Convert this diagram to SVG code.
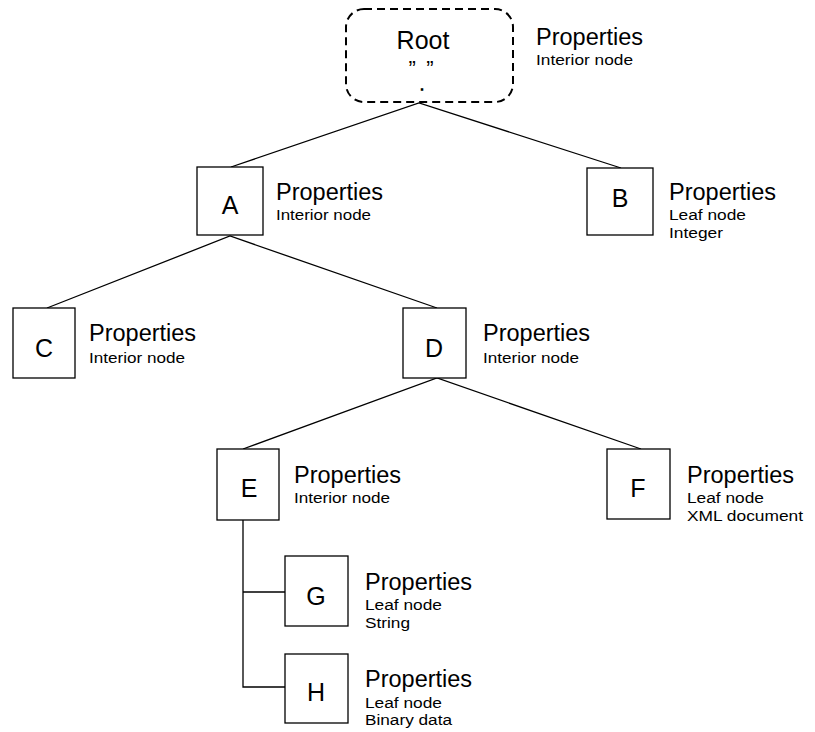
<svg xmlns="http://www.w3.org/2000/svg" width="815" height="732" viewBox="0 0 815 732">
<style>
.box{fill:#fff;stroke:#000;stroke-width:1.3}
.root{fill:#fff;stroke:#000;stroke-width:2;stroke-dasharray:8 5}
.ln{stroke:#000;stroke-width:1.3;fill:none}
.lbl{font-family:"Liberation Sans",Arial,sans-serif;font-size:25px;text-anchor:middle;fill:#000}
.p{font-family:"Liberation Sans",Arial,sans-serif;font-size:23.5px;fill:#000}
.s{font-family:"Liberation Sans",Arial,sans-serif;font-size:15.5px;fill:#000}
</style>
<rect width="815" height="732" fill="#fff"/>
<g id="connectors">
<polyline class="ln" points="231,167 419,103 621,168"/>
<polyline class="ln" points="47,308 230,236 437,308"/>
<polyline class="ln" points="243,449 437,378 641,449"/>
<polyline class="ln" points="243,520 243,687 285,687"/>
<line class="ln" x1="243" y1="592" x2="285" y2="592"/>
</g>
<g id="root">
<rect class="root" x="346" y="9" width="167" height="93" rx="18"/>
<text class="lbl" x="423" y="49">Root</text>
<text class="lbl" x="421" y="76" style="font-size:22px" textLength="25" lengthAdjust="spacing">” ”</text>
<text class="lbl" x="422" y="90" style="font-size:9px;stroke:#000;stroke-width:1.6">.</text>
<text class="p" x="536" y="45">Properties</text>
<text class="s" x="536" y="65" textLength="97" lengthAdjust="spacingAndGlyphs">Interior node</text>
</g>
<g id="A">
<rect class="box" x="197" y="167" width="66" height="68"/>
<text class="lbl" x="230" y="214">A</text>
<text class="p" x="276" y="200">Properties</text>
<text class="s" x="276" y="220" textLength="95" lengthAdjust="spacingAndGlyphs">Interior node</text>
</g>
<g id="B">
<rect class="box" x="587" y="168" width="66" height="67"/>
<text class="lbl" x="620" y="207">B</text>
<text class="p" x="669" y="200">Properties</text>
<text class="s" x="669" y="220" textLength="77" lengthAdjust="spacingAndGlyphs">Leaf node</text>
<text class="s" x="669" y="238" textLength="54" lengthAdjust="spacingAndGlyphs">Integer</text>
</g>
<g id="C">
<rect class="box" x="13" y="308" width="62" height="70"/>
<text class="lbl" x="44" y="357">C</text>
<text class="p" x="89" y="341">Properties</text>
<text class="s" x="89" y="363" textLength="96" lengthAdjust="spacingAndGlyphs">Interior node</text>
</g>
<g id="D">
<rect class="box" x="403" y="308" width="63" height="70"/>
<text class="lbl" x="434" y="357">D</text>
<text class="p" x="483" y="341">Properties</text>
<text class="s" x="483" y="363" textLength="96" lengthAdjust="spacingAndGlyphs">Interior node</text>
</g>
<g id="E">
<rect class="box" x="217" y="449" width="62" height="71"/>
<text class="lbl" x="249" y="497">E</text>
<text class="p" x="294" y="483">Properties</text>
<text class="s" x="294" y="503" textLength="96" lengthAdjust="spacingAndGlyphs">Interior node</text>
</g>
<g id="F">
<rect class="box" x="607" y="449" width="63" height="70"/>
<text class="lbl" x="638" y="497">F</text>
<text class="p" x="687" y="483">Properties</text>
<text class="s" x="687" y="503" textLength="77" lengthAdjust="spacingAndGlyphs">Leaf node</text>
<text class="s" x="687" y="521" textLength="116" lengthAdjust="spacingAndGlyphs">XML document</text>
</g>
<g id="G">
<rect class="box" x="285" y="556" width="63" height="70"/>
<text class="lbl" x="316" y="605">G</text>
<text class="p" x="365" y="590">Properties</text>
<text class="s" x="365" y="610" textLength="77" lengthAdjust="spacingAndGlyphs">Leaf node</text>
<text class="s" x="365" y="628" textLength="45" lengthAdjust="spacingAndGlyphs">String</text>
</g>
<g id="H">
<rect class="box" x="285" y="654" width="63" height="69"/>
<text class="lbl" x="316" y="701">H</text>
<text class="p" x="365" y="687">Properties</text>
<text class="s" x="365" y="708" textLength="77" lengthAdjust="spacingAndGlyphs">Leaf node</text>
<text class="s" x="365" y="725" textLength="87" lengthAdjust="spacingAndGlyphs">Binary data</text>
</g>
</svg>
